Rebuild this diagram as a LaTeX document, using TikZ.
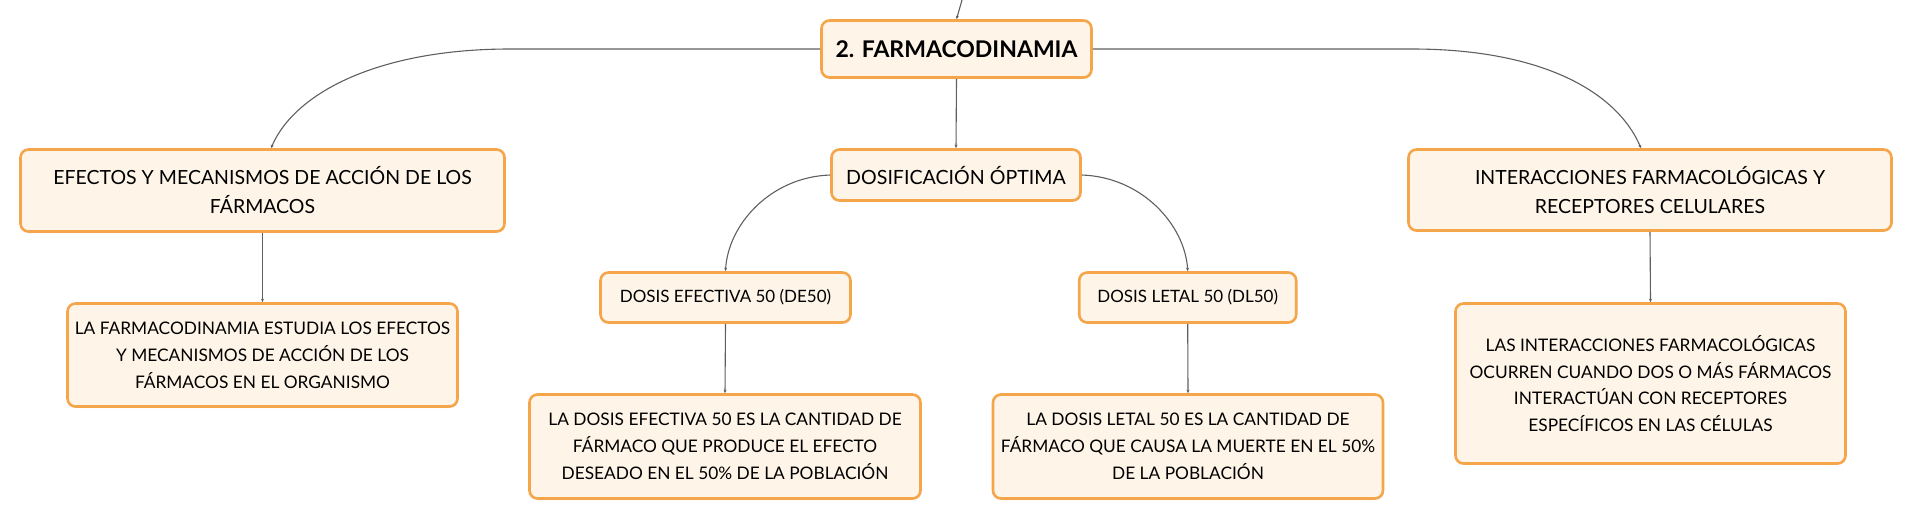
\documentclass[tikz,border=0pt]{standalone}
\usepackage{fontspec}
\setmainfont{Lato}
\usetikzlibrary{arrows.meta,shadows}
\definecolor{boxorange}{HTML}{F5A54A}
\definecolor{boxfill}{HTML}{FEF4E8}
\definecolor{linegray}{HTML}{5F5F5F}
\begin{document}
\begin{tikzpicture}[x=1pt,y=-1pt,
  box/.style={draw=boxorange, line width=2.6pt, fill=boxfill, rounded corners=8pt,
    inner sep=0pt, align=center, text=black,
    drop shadow={opacity=0.12, shadow xshift=0pt, shadow yshift=-1.5pt}},
  rootfont/.style={font=\fontsize{23}{27}\selectfont\bfseries},
  subfont/.style={font=\fontsize{19.5}{29}\selectfont},
  dosfont/.style={font=\fontsize{19.6}{29}\selectfont},
  midfont/.style={font=\fontsize{17}{27}\selectfont},
  leaffont/.style={font=\fontsize{17.3}{26.8}\selectfont},
  conn/.style={draw=linegray, line width=1.1pt, -{Stealth[length=3.5pt,width=3pt]}}]
\useasboundingbox (0,0) rectangle (1914,520);

\node[box, rootfont, minimum width=270pt, minimum height=57pt] (root) at (956.5,49) {2. FARMACODINAMIA};
\node[box, dosfont, minimum width=249pt, minimum height=51pt] (dos) at (956,175) {DOSIFICACIÓN ÓPTIMA};
\node[box, subfont, minimum width=484pt, minimum height=82pt] (efe) at (262.5,190.5) {EFECTOS Y MECANISMOS DE ACCIÓN DE LOS\\FÁRMACOS};
\node[box, leaffont, minimum width=390pt, minimum height=103pt] (efeL) at (262.5,355) {LA FARMACODINAMIA ESTUDIA LOS EFECTOS\\Y MECANISMOS DE ACCIÓN DE LOS\\FÁRMACOS EN EL ORGANISMO};
\node[box, subfont, minimum width=483pt, minimum height=81pt] (int) at (1650,190) {INTERACCIONES FARMACOLÓGICAS Y\\RECEPTORES CELULARES};
\node[box, leaffont, minimum width=390pt, minimum height=160pt] (intL) at (1650.5,383.5) {LAS INTERACCIONES FARMACOLÓGICAS\\OCURREN CUANDO DOS O MÁS FÁRMACOS\\INTERACTÚAN CON RECEPTORES\\ESPECÍFICOS EN LAS CÉLULAS};
\node[box, midfont, minimum width=250pt, minimum height=50pt] (de) at (725.5,297.5) {DOSIS EFECTIVA 50 (DE50)};
\node[box, leaffont, minimum width=391pt, minimum height=104pt] (deL) at (725,446.5) {LA DOSIS EFECTIVA 50 ES LA CANTIDAD DE\\FÁRMACO QUE PRODUCE EL EFECTO\\DESEADO EN EL 50\% DE LA POBLACIÓN};
\node[box, midfont, minimum width=217pt, minimum height=50pt] (dl) at (1187.7,297.5) {DOSIS LETAL 50 (DL50)};
\node[box, leaffont, minimum width=390pt, minimum height=104pt] (dlL) at (1188,446.5) {LA DOSIS LETAL 50 ES LA CANTIDAD DE\\FÁRMACO QUE CAUSA LA MUERTE EN EL 50\%\\DE LA POBLACIÓN};

\coordinate (topin) at (962,0);
\draw[conn] (topin) -- (root.north);
\draw[conn] (root.south) -- (dos.north);
\draw[conn] (root.west) -- (510,49) .. controls (380,49) and (295,92) .. ([xshift=8.5pt]efe.north);
\draw[conn] (root.east) -- (1412,49) .. controls (1542,49) and (1617,92) .. ([xshift=-9pt]int.north);
\draw[conn] (dos.west) .. controls (770,177) and (728,225) .. (de.north);
\draw[conn] (dos.east) .. controls (1142,177) and (1185,225) .. (dl.north);
\draw[conn] (efe.south) -- (efeL.north);
\draw[conn] (int.south) -- (intL.north);
\draw[conn] (de.south) -- (deL.north);
\draw[conn] (dl.south) -- (dlL.north);
\end{tikzpicture}
\end{document}
